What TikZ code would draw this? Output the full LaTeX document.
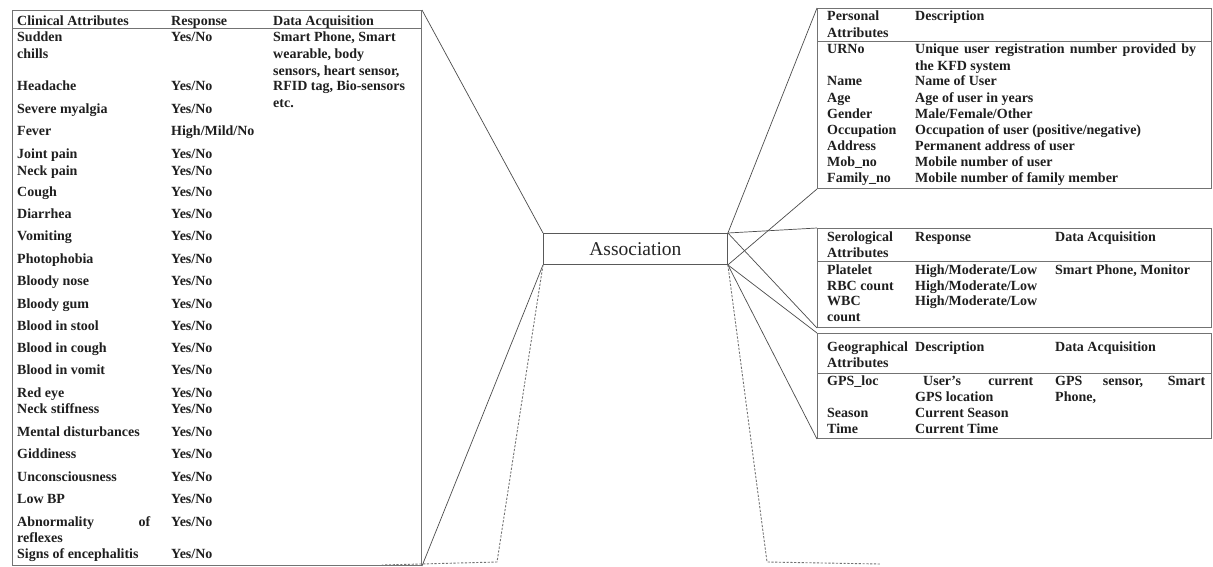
\documentclass[tikz,border=0pt]{standalone}
\usepackage{fontspec}
\setmainfont{Liberation Serif}
\begin{document}
\begin{tikzpicture}[x=1pt,y=-1pt,
  txt/.style={anchor=base west, inner sep=0pt, font=\fontsize{14}{16}\selectfont\bfseries, text=black!88},
  tbl/.style={draw=black!55, line width=1pt, anchor=north west, inner sep=0pt},
  hline/.style={draw=black!55, line width=1pt},
  conn/.style={draw=black!70, line width=0.7pt},
  dconn/.style={draw=black!55, line width=0.9pt, dash pattern=on 2.2pt off 1.6pt},
]
\useasboundingbox[fill=white] (0,0) rectangle (1213,566);

% ---------- tables ----------
\node[tbl, minimum width=409pt, minimum height=555pt] (clin) at (12,10) {};
\node[tbl, minimum width=394pt, minimum height=180pt] (pers) at (817,8) {};
\node[tbl, minimum width=394pt, minimum height=99pt] (sero) at (817,228) {};
\node[tbl, minimum width=394pt, minimum height=105pt] (geo) at (817,333) {};
\node[draw=black!65, line width=0.9pt, anchor=north west, minimum width=184pt, minimum height=31pt, inner sep=0pt,
      font=\fontsize{19.5}{22}\selectfont, text=black!85] (assoc) at (543,233) {Association};

% header rules
\draw[hline] (clin.north west |- 0,28) -- (clin.north east |- 0,28);
\draw[hline] (pers.north west |- 0,41) -- (pers.north east |- 0,41);
\draw[hline] (sero.north west |- 0,261) -- (sero.north east |- 0,261);
\draw[hline] (geo.north west |- 0,373) -- (geo.north east |- 0,373);

% ---------- connectors ----------
\draw[conn] (clin.north east) -- (assoc.north west);
\draw[conn] (clin.south east) -- (assoc.south west);
\draw[conn] (assoc.north east) -- (pers.north west);
\draw[conn] (assoc.south east) -- (pers.south west);
\draw[conn] (assoc.north east) -- (sero.north west);
\draw[conn] (assoc.north east) -- (sero.south west);
\draw[conn] (assoc.south east) -- (geo.north west);
\draw[conn] (assoc.south east) -- (geo.south west);

\coordinate (dl1) at (497,562);
\coordinate (dl2) at (382,565);
\coordinate (dr1) at (767,562);
\coordinate (dr2) at (880,564);
\draw[dconn] (assoc.south west) -- (dl1) -- (dl2);
\draw[dconn] (assoc.south east) -- (dr1) -- (dr2);

% ---------- clinical table text ----------
\node[txt] at (17,25) {Clinical Attributes};
\node[txt] at (171,25) {Response};
\node[txt] at (273,25) {Data Acquisition};

\node[txt] at (17,41) {Sudden};
\node[txt] at (17,58) {chills};
\node[txt] at (17,90) {Headache};
\node[txt] at (17,113) {Severe myalgia};
\node[txt] at (17,135) {Fever};
\node[txt] at (17,158) {Joint pain};
\node[txt] at (17,175) {Neck pain};
\node[txt] at (17,196) {Cough};
\node[txt] at (17,218) {Diarrhea};
\node[txt] at (17,240) {Vomiting};
\node[txt] at (17,263) {Photophobia};
\node[txt] at (17,285) {Bloody nose};
\node[txt] at (17,308) {Bloody gum};
\node[txt] at (17,330) {Blood in stool};
\node[txt] at (17,352) {Blood in cough};
\node[txt] at (17,374) {Blood in vomit};
\node[txt] at (17,397) {Red eye};
\node[txt] at (17,413) {Neck stiffness};
\node[txt] at (17,436) {Mental disturbances};
\node[txt] at (17,458) {Giddiness};
\node[txt] at (17,481) {Unconsciousness};
\node[txt] at (17,503) {Low BP};
\node[txt] at (17,526) {\makebox[133pt][s]{Abnormality of}};
\node[txt] at (17,542) {reflexes};
\node[txt] at (17,558) {Signs of encephalitis};

\node[txt] at (171,41) {Yes/No};
\node[txt] at (171,90) {Yes/No};
\node[txt] at (171,113) {Yes/No};
\node[txt] at (171,135) {High/Mild/No};
\node[txt] at (171,158) {Yes/No};
\node[txt] at (171,175) {Yes/No};
\node[txt] at (171,196) {Yes/No};
\node[txt] at (171,218) {Yes/No};
\node[txt] at (171,240) {Yes/No};
\node[txt] at (171,263) {Yes/No};
\node[txt] at (171,285) {Yes/No};
\node[txt] at (171,308) {Yes/No};
\node[txt] at (171,330) {Yes/No};
\node[txt] at (171,352) {Yes/No};
\node[txt] at (171,374) {Yes/No};
\node[txt] at (171,397) {Yes/No};
\node[txt] at (171,413) {Yes/No};
\node[txt] at (171,436) {Yes/No};
\node[txt] at (171,458) {Yes/No};
\node[txt] at (171,481) {Yes/No};
\node[txt] at (171,503) {Yes/No};
\node[txt] at (171,526) {Yes/No};
\node[txt] at (171,558) {Yes/No};

\node[txt] at (273,41) {Smart Phone, Smart};
\node[txt] at (273,58) {wearable, body};
\node[txt] at (273,75) {sensors, heart sensor,};
\node[txt] at (273,90) {RFID tag, Bio-sensors};
\node[txt] at (273,107) {etc.};

% ---------- personal table text ----------
\node[txt] at (827,20) {Personal};
\node[txt] at (827,37) {Attributes};
\node[txt] at (915,20) {Description};
\node[txt] at (827,53) {URNo};
\node[txt] at (915,53) {\makebox[281pt][s]{Unique user registration number provided by}};
\node[txt] at (915,70) {the KFD system};
\node[txt] at (827,85) {Name};
\node[txt] at (915,85) {Name of User};
\node[txt] at (827,102) {Age};
\node[txt] at (915,102) {Age of user in years};
\node[txt] at (827,118) {Gender};
\node[txt] at (915,118) {Male/Female/Other};
\node[txt] at (827,134) {Occupation};
\node[txt] at (915,134) {Occupation of user (positive/negative)};
\node[txt] at (827,150) {Address};
\node[txt] at (915,150) {Permanent address of user};
\node[txt] at (827,166) {Mob\_no};
\node[txt] at (915,166) {Mobile number of user};
\node[txt] at (827,182) {Family\_no};
\node[txt] at (915,182) {Mobile number of family member};

% ---------- serological table text ----------
\node[txt] at (827,241) {Serological};
\node[txt] at (827,257) {Attributes};
\node[txt] at (915,241) {Response};
\node[txt] at (1055,241) {Data Acquisition};
\node[txt] at (827,274) {Platelet};
\node[txt] at (915,274) {High/Moderate/Low};
\node[txt] at (1055,274) {Smart Phone, Monitor};
\node[txt] at (827,290) {RBC count};
\node[txt] at (915,290) {High/Moderate/Low};
\node[txt] at (827,305) {WBC};
\node[txt] at (915,305) {High/Moderate/Low};
\node[txt] at (827,321) {count};

% ---------- geographical table text ----------
\node[txt] at (827,351) {Geographical};
\node[txt] at (827,367) {Attributes};
\node[txt] at (915,351) {Description};
\node[txt] at (1055,351) {Data Acquisition};
\node[txt] at (827,385) {GPS\_loc};
\node[txt] at (923,385) {\makebox[110pt][s]{User’s current}};
\node[txt] at (1055,385) {\makebox[150pt][s]{GPS sensor, Smart}};
\node[txt] at (915,401) {GPS location};
\node[txt] at (1055,401) {Phone,};
\node[txt] at (827,417) {Season};
\node[txt] at (915,417) {Current Season};
\node[txt] at (827,433) {Time};
\node[txt] at (915,433) {Current Time};
\end{tikzpicture}
\end{document}
